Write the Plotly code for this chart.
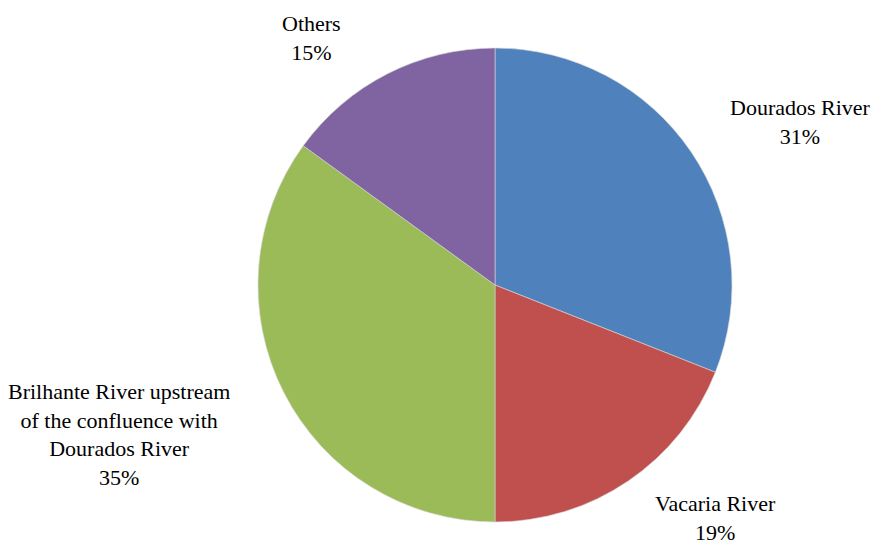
import plotly.graph_objects as go

labels = ["Dourados River", "Vacaria River",
          "Brilhante River upstream<br>of the confluence with<br>Dourados River", "Others"]
values = [31, 19, 35, 15]
colors = ["#4F81BD", "#C0504D", "#9BBB59", "#8064A2"]

W, H = 879, 545
OFF = 8  # page body margin offset

def px(x, y):
    return ((x - OFF) / W, 1 - (y - OFF) / H)

# label anchor centres (page px)
label_px = [(800, 122), (715, 518), (119, 434), (311, 38)]

cx, cy, r = 495, 285, 237
x0, y1 = px(cx - r, cy - r)
x1, y0 = px(cx + r, cy + r)

fig = go.Figure(go.Pie(
    labels=labels, values=values, sort=False, direction="clockwise", rotation=0,
    marker=dict(colors=colors, line=dict(color="#d9d9d9", width=0.6)),
    textinfo="none", hoverinfo="label+percent", showlegend=False,
    domain=dict(x=[x0, x1], y=[y0, y1]),
))

for lab, v, (lx, ly) in zip(labels, values, label_px):
    ax, ay = px(lx, ly)
    fig.add_annotation(x=ax, y=ay, xref="paper", yref="paper", showarrow=False,
                       xanchor="center", yanchor="middle",
                       text=f"{lab}<br>{v}%", align="center",
                       font=dict(family="Liberation Serif", size=22, color="#000000"))

fig.update_layout(width=W, height=H, margin=dict(l=0, r=0, t=0, b=0),
                  paper_bgcolor="white", plot_bgcolor="white")
fig.write_html("out.html")
